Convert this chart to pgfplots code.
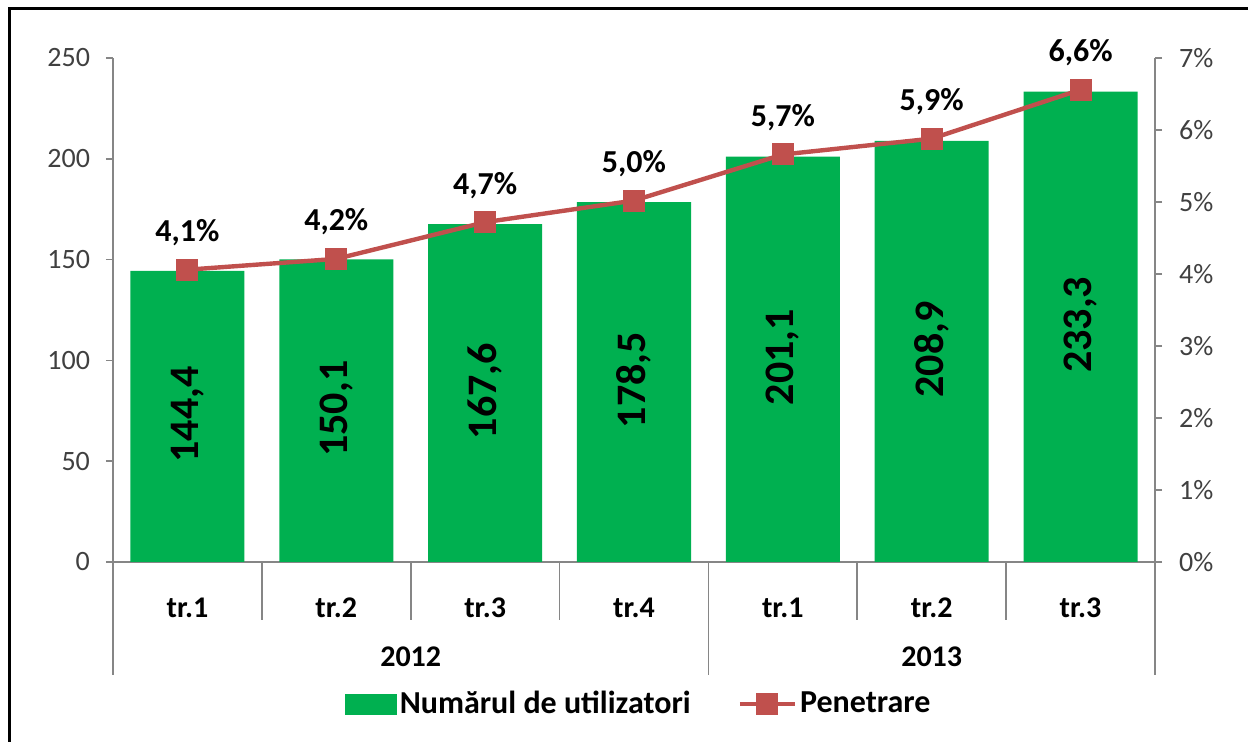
\documentclass[border=0pt]{standalone}
\usepackage{pgfplots}
\usepackage{pgfplotstable}
\pgfplotsset{compat=1.18}
\usepackage{fontspec}
\setmainfont{Carlito}
\definecolor{bargreen}{HTML}{00B050}
\definecolor{linered}{HTML}{C0504D}
\definecolor{axgray}{HTML}{868686}
\definecolor{ticktext}{HTML}{404040}
\pgfplotsset{/pgf/number format/assume math mode=true,
  mylinelegend/.style={legend image code/.code={\draw[mark repeat=2,mark phase=2,##1] plot coordinates {(0pt,0pt) (13.75pt,0pt) (27.5pt,0pt)};}},
  mybarlegend/.style={legend image code/.code={\fill[bargreen] (0pt,-5pt) rectangle (25.5pt,5pt);}}}

\pgfplotstableread{
x v p
0 144.4 4.06
1 150.1 4.21
2 167.6 4.72
3 178.5 5.02
4 201.1 5.66
5 208.9 5.88
6 233.3 6.56
}\data

\begin{document}
\begin{tikzpicture}
\path[use as bounding box] (0,0) rectangle (624pt,371pt);
\draw[line width=1.5pt] (4.5pt,-2pt) -- (4.5pt,366.5pt) -- (626pt,366.5pt);
\begin{axis}[
  at={(56.5pt,90pt)}, anchor=south west,
  width=521pt, height=252pt, scale only axis,
  xmin=-0.5, xmax=6.5, ymin=0, ymax=250,
  axis y line*=left, axis x line*=bottom,
  axis line style={axgray, line width=0.8pt, -},
  ytick={0,50,...,250},
  major tick length=3.5pt, tick align=outside,
  ytick style={axgray, line width=0.8pt},
  xtick={0,...,6}, xticklabels={tr.1,tr.2,tr.3,tr.4,tr.1,tr.2,tr.3},
  x tick style={draw=none},
  xticklabel style={font=\bfseries\fontsize{15}{18}\selectfont, text=black, anchor=base, yshift=-24.5pt},
  yticklabel style={font=\fontsize{14}{16}\selectfont, text=ticktext, xshift=-4.5pt},
  clip=false,
]
\addplot[ybar, bar width=57pt, fill=bargreen, draw=none] table[x=x,y=v]{\data};
\addplot[draw=none, mark=none,
  nodes near coords={\pgfmathprintnumber[fixed,precision=1,fixed zerofill,use comma]{\pgfplotspointmeta}},
  point meta=\thisrow{v},
  every node near coord/.style={rotate=90, anchor=center, font=\bfseries\fontsize{21}{25}\selectfont, text=black, xshift=1pt}]
  table[x=x, y expr=\thisrow{v}/2]{\data};
\draw[axgray, line width=0.8pt] (axis cs:-0.5,0) -- ++(0pt,-56.5pt);
\draw[axgray, line width=0.8pt] (axis cs:0.5,0) -- ++(0pt,-29pt);
\draw[axgray, line width=0.8pt] (axis cs:1.5,0) -- ++(0pt,-29pt);
\draw[axgray, line width=0.8pt] (axis cs:2.5,0) -- ++(0pt,-29pt);
\draw[axgray, line width=0.8pt] (axis cs:3.5,0) -- ++(0pt,-56.5pt);
\draw[axgray, line width=0.8pt] (axis cs:4.5,0) -- ++(0pt,-29pt);
\draw[axgray, line width=0.8pt] (axis cs:5.5,0) -- ++(0pt,-29pt);
\draw[axgray, line width=0.8pt] (axis cs:6.5,0) -- ++(0pt,-56.5pt);
\node[anchor=base, yshift=-52.5pt, font=\bfseries\fontsize{15}{18}\selectfont] at (axis cs:1.5,0) {2012};
\node[anchor=base, yshift=-52.5pt, font=\bfseries\fontsize{15}{18}\selectfont] at (axis cs:5,0) {2013};
\end{axis}
\begin{axis}[
  at={(56.5pt,90pt)}, anchor=south west,
  width=521pt, height=252pt, scale only axis,
  xmin=-0.5, xmax=6.5, ymin=0, ymax=7,
  axis y line*=right, axis x line=none,
  axis line style={axgray, line width=0.8pt, -},
  ytick={0,...,7},
  yticklabel={\pgfmathprintnumber{\tick}\%},
  major tick length=3.5pt, tick align=outside,
  ytick style={axgray, line width=0.8pt},
  yticklabel style={font=\fontsize{14}{16}\selectfont, text=ticktext, xshift=5pt},
  clip=false,
  legend columns=2,
  legend style={draw=none, fill=none, at={(0.505,-0.282)}, anchor=center,
    font=\bfseries\fontsize{16}{19}\selectfont,
    /tikz/every even column/.append style={column sep=22pt},
    nodes={inner sep=1.5pt}},
]
\addlegendimage{mybarlegend}
\addlegendentry{Numărul de utilizatori}
\addplot[linered, line width=2.2pt, mark=square*, mark size=5.25pt,
  mark options={fill=linered, draw=linered, line width=0pt},
  mylinelegend,
  nodes near coords={\pgfmathprintnumber[fixed,precision=1,fixed zerofill,use comma]{\pgfplotspointmeta}\%},
  point meta=y,
  every node near coord/.style={anchor=base, yshift=14pt, font=\bfseries\fontsize{16}{19}\selectfont, text=black}]
  table[x=x,y=p]{\data};
\addlegendentry{Penetrare}
\end{axis}
\end{tikzpicture}
\end{document}
